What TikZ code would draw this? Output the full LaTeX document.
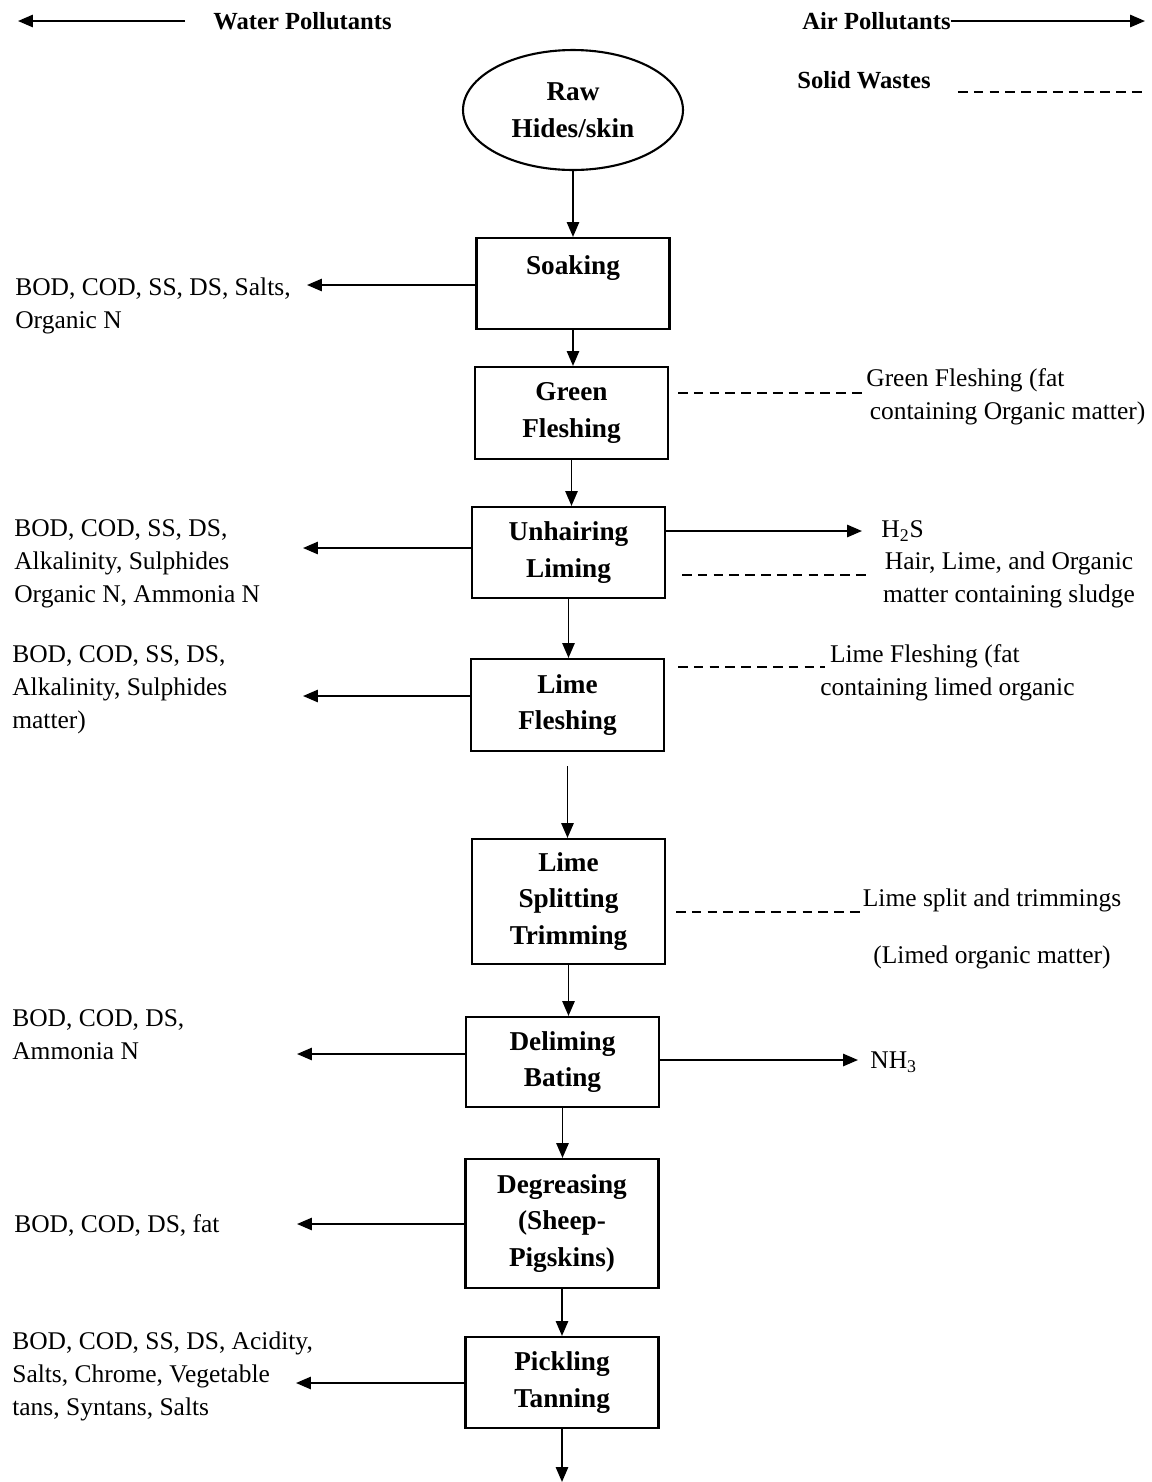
\documentclass[tikz,border=0pt]{standalone}
\usepackage{fontspec}
\setmainfont{Liberation Serif}
\usetikzlibrary{arrows.meta,shapes.geometric}
\newcommand{\stagebox}[5]{\node[stage, minimum height=#4] (#1) at (#2,#3) {#5};}
\tikzset{
  stage/.style={draw, line width=1.2pt, minimum width=3.86cm, inner sep=0pt, align=center,
    font=\fontsize{15.5}{21}\selectfont\bfseries},
  flow/.style={line width=1.1pt, -{Triangle[length=8.5pt,width=7pt]}},
  waste/.style={line width=1pt, dash pattern=on 5.5pt off 3.5pt},
  note/.style={inner sep=0pt, align=left, font=\fontsize{14.5}{18.7}\selectfont},
  head/.style={inner sep=0pt, font=\fontsize{14}{17}\selectfont\bfseries}
}
\begin{document}
\begin{tikzpicture}[x=0.02cm, y=-0.02cm]
\useasboundingbox (0,0) rectangle (1152,1482);
% legend
\node[head, anchor=west] (wp) at (213,21) {Water Pollutants};
\node[head, anchor=west] (ap) at (802,21) {Air Pollutants};
\node[head, anchor=west] (sw) at (797,80) {Solid Wastes};
\coordinate (wl) at (18,21);
\coordinate (ar) at (1145,21);
\coordinate (se) at (1145,92);
\draw[flow] ([xshift=-0.56cm]wp.west) -- (wl);
\draw[flow] (ap.east) -- (ar);
\draw[waste] ([xshift=0.54cm]sw.east |- se) -- (se);
% process chain
\node[draw, ellipse, line width=1.2pt, minimum width=4.4cm, minimum height=2.4cm, inner sep=0pt,
  align=center, font=\fontsize{15.5}{21}\selectfont\bfseries] (raw) at (573,110) {Raw\\Hides/skin};
\stagebox{soak}{573}{283.5}{1.82cm}{Soaking\\\mbox{}}
\stagebox{gfl}{571.5}{413}{1.84cm}{Green\\Fleshing}
\stagebox{unh}{568.5}{552.5}{1.82cm}{Unhairing\\Liming}
\stagebox{lfl}{567.5}{705}{1.84cm}{Lime\\Fleshing}
\stagebox{lsp}{568.5}{901.5}{2.5cm}{Lime\\Splitting\\Trimming}
\stagebox{dlm}{562.5}{1062}{1.8cm}{Deliming\\Bating}
\stagebox{dgr}{562}{1223.5}{2.58cm}{Degreasing\\(Sheep-\\Pigskins)}
\stagebox{pkl}{562}{1382.5}{1.82cm}{Pickling\\Tanning}
\coordinate (out) at (562,1482);
\draw[flow] (raw.south) -- (raw.south |- soak.north);
\draw[flow] (soak.south) -- (soak.south |- gfl.north);
\draw[flow] (gfl.south) -- (gfl.south |- unh.north);
\draw[flow] (unh.south) -- (unh.south |- lfl.north);
\draw[flow] ([yshift=-0.28cm]lfl.south) -- (lfl.south |- lsp.north);
\draw[flow] (lsp.south) -- (lsp.south |- dlm.north);
\draw[flow] (dlm.south) -- (dlm.south |- dgr.north);
\draw[flow] (dgr.south) -- (dgr.south |- pkl.north);
\draw[flow] (pkl.south) -- (out);
% water pollutants
\node[note, anchor=west] (w1) at (15,305.5) {BOD, COD, SS, DS, Salts,\\Organic N};
\node[note, anchor=west] (w2) at (14,564) {BOD, COD, SS, DS,\\Alkalinity, Sulphides\\Organic N, Ammonia N};
\node[note, anchor=west] (w3) at (12,690) {BOD, COD, SS, DS,\\Alkalinity, Sulphides\\matter)};
\node[note, anchor=west] (w4) at (12,1034.5) {BOD, COD, DS,\\Ammonia N};
\node[note, anchor=west] (w5) at (14,1225) {BOD, COD, DS, fat};
\node[note, anchor=west] (w6) at (12,1376.5) {BOD, COD, SS, DS, Acidity,\\Salts, Chrome, Vegetable\\tans, Syntans, Salts};
\coordinate (t1) at (307,285);
\coordinate (t2) at (303,548);
\coordinate (t3) at (303,696);
\coordinate (t4) at (297,1054);
\coordinate (t5) at (297,1224);
\coordinate (t6) at (296,1383);
\draw[flow] (soak.west |- t1) -- (t1);
\draw[flow] (unh.west |- t2) -- (t2);
\draw[flow] (lfl.west |- t3) -- (t3);
\draw[flow] (dlm.west |- t4) -- (t4);
\draw[flow] (dgr.west |- t5) -- (t5);
\draw[flow] (pkl.west |- t6) -- (t6);
% air pollutants and solid wastes
\node[note, anchor=west] (r1) at (866,396.5) {Green Fleshing (fat\\\hspace*{2pt}containing Organic matter)};
\node[note, anchor=west] (h2s) at (881,531) {H\textsubscript{2}S};
\node[note, align=center] (r2) at (1009,580) {Hair, Lime, and Organic\\matter containing sludge};
\node[note, anchor=west] (r3) at (820,672.5) {\hspace*{5.5pt}Lime Fleshing (fat\\containing limed organic};
\node[note, align=center] (r4) at (992,929) {Lime split and trimmings\\[14pt](Limed organic matter)};
\node[note, anchor=west] (nh3) at (870,1062) {NH\textsubscript{3}};
\coordinate (a1) at (862,531);
\coordinate (a2) at (858,1060);
\draw[flow] (unh.east |- a1) -- (a1);
\draw[flow] (dlm.east |- a2) -- (a2);
\coordinate (d1) at (678,393);
\coordinate (d2) at (682,575);
\coordinate (d3) at (678,667);
\coordinate (d4) at (676,912);
\draw[waste] (d1) -- (862,393);
\draw[waste] (d2) -- (866,575);
\draw[waste] (d3) -- (825,667);
\draw[waste] (d4) -- (860,912);
\end{tikzpicture}
\end{document}
